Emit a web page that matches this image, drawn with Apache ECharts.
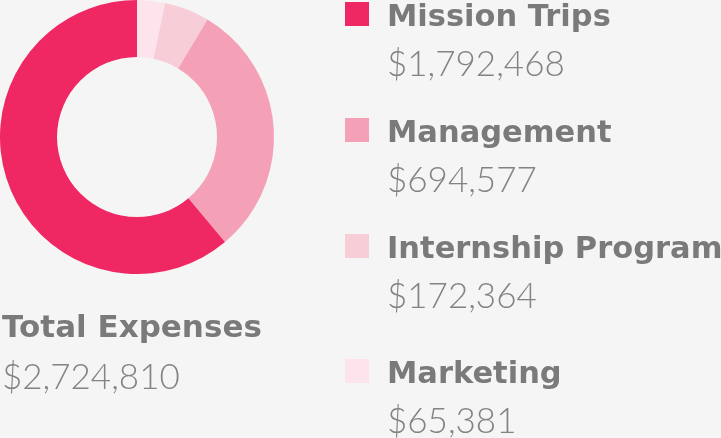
<!DOCTYPE html>
<html>
<head>
<meta charset="utf-8">
<script src="https://cdn.jsdelivr.net/npm/echarts@6/dist/echarts.min.js"></script>
<style>
  html, body { margin: 0; padding: 0; background: #f5f5f5; }
  #chart { width: 721px; height: 438px; }
</style>
</head>
<body>
<div id="chart"></div>
<script>
// ring drawn clockwise from 12 o'clock
const categories = ['Marketing', 'Internship Program', 'Management', 'Mission Trips'];
// slice shares as they appear in the ring (percent of the circle)
const sliceShares = [3.3, 5.3, 30.3, 61.1];
// amounts printed next to the legend
const amounts = [65381, 172364, 694577, 1792468];
const colors = ['#fde4ec', '#f7cdd8', '#f4a1b8', '#ef2763'];
// legend reads top to bottom
const legendOrder = ['Mission Trips', 'Management', 'Internship Program', 'Marketing'];
const legendTops = [-43, 73, 189, 314];
const totalLabel = 'Total Expenses';
const totalValue = 2724810;

const fmt = v => '$' + v.toLocaleString('en-US');
const nameFont = 'DejaVu Sans';
const valueFont = 'Lato';

const chart = echarts.init(document.getElementById('chart'));

// one legend per row so each row sits where the picture has it
const legends = legendOrder.map((name, i) => ({
  data: [name],
  left: 340,
  top: legendTops[i],
  orient: 'vertical',
  itemWidth: 24,
  itemHeight: 24,
  icon: 'rect',
  selectedMode: false,
  // blank first line keeps the name level with the square
  formatter: n => '{s| }\n{n|' + n + '}\n{v|' + fmt(amounts[categories.indexOf(n)]) + '}',
  textStyle: {
    padding: [0, 0, 0, 13],
    rich: {
      s: { fontSize: 10, lineHeight: 55 },
      n: { fontFamily: nameFont, fontSize: 30.5, fontWeight: 'bold', color: '#7a7a7a', lineHeight: 47 },
      v: { fontFamily: valueFont, fontSize: 35, fontWeight: 300, color: '#838383', lineHeight: 47 }
    }
  }
}));

chart.setOption({
  backgroundColor: '#f5f5f5',
  animation: false,
  color: colors,
  title: {
    text: totalLabel,
    subtext: fmt(totalValue),
    left: 2,
    top: 313,
    padding: 0,
    itemGap: 16,
    textStyle: { fontFamily: nameFont, fontSize: 31, fontWeight: 'bold', color: '#7a7a7a' },
    subtextStyle: { fontFamily: valueFont, fontSize: 35, fontWeight: 300, color: '#838383' }
  },
  legend: legends,
  series: [{
    type: 'pie',
    center: [137, 137],
    radius: [80, 137],
    startAngle: 90,
    clockwise: true,
    label: { show: false },
    labelLine: { show: false },
    emphasis: { disabled: true },
    data: categories.map((c, i) => ({ name: c, value: sliceShares[i] }))
  }]
});
</script>
</body>
</html>
